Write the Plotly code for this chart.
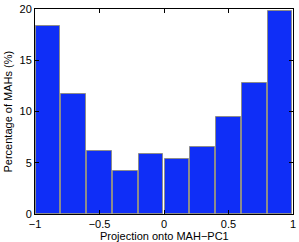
import plotly.graph_objects as go

bin_centers = [-0.9, -0.7, -0.5, -0.3, -0.1, 0.1, 0.3, 0.5, 0.7, 0.9]
percentages = [18.3, 11.75, 6.1, 4.2, 5.9, 5.4, 6.5, 9.45, 12.75, 19.8]
x_ticks = [-1, -0.5, 0, 0.5, 1]
x_tick_labels = ["\u22121", "\u22120.5", "0", "0.5", "1"]
y_ticks = [0, 5, 10, 15, 20]

FONT = "Liberation Sans, Arial"

fig = go.Figure()
fig.add_trace(go.Bar(
    x=bin_centers, y=percentages, width=0.19,
    marker=dict(color="#0f2ef7", line=dict(color="#8c8c8c", width=1)),
))
axis_common = dict(
    showline=True, linecolor="black", linewidth=1, mirror="ticks",
    ticks="inside", ticklen=4, tickcolor="black", showgrid=False, zeroline=False,
    tickfont=dict(family=FONT, size=11, color="black"), automargin=False,
)
fig.update_xaxes(range=[-1, 1], tickvals=x_ticks, ticktext=x_tick_labels,
                 ticklabelstandoff=0, **axis_common)
fig.update_yaxes(range=[0, 20], tickvals=y_ticks, **axis_common)
fig.add_annotation(text="Projection onto MAH\u2212PC1", x=0.5, xref="paper",
                   y=0, yref="paper", yshift=-22, showarrow=False, yanchor="middle",
                   font=dict(family=FONT, size=11, color="black"))
fig.add_annotation(text="Percentage of MAHs (%)", x=0, xref="paper", xshift=-28,
                   y=0.5, yref="paper", showarrow=False, textangle=-90,
                   xanchor="center", yanchor="middle",
                   font=dict(family=FONT, size=11, color="black"))
fig.update_layout(
    width=299, height=242, margin=dict(l=35, r=6, t=9, b=28),
    plot_bgcolor="white", paper_bgcolor="white", showlegend=False, bargap=0,
)
fig.write_html("out.html", config={"displayModeBar": False},
               post_script="document.body.style.margin='0';document.body.style.overflow='hidden';")
